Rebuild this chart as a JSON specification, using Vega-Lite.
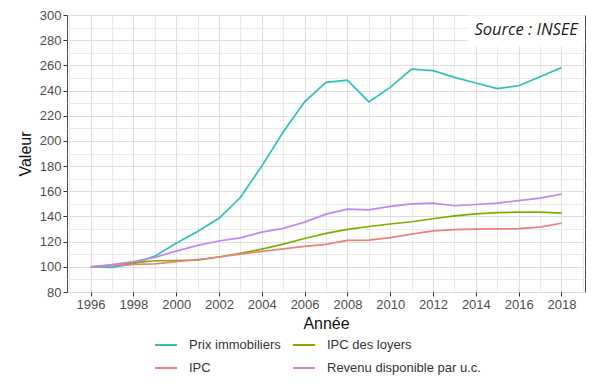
{
  "$schema": "https://vega.github.io/schema/vega-lite/v6.json",
  "autosize": {"type": "none"},
  "width": 518,
  "height": 277,
  "padding": {"left": 67, "top": 15, "right": 15, "bottom": 99},
  "background": "white",
  "config": {"view": {"stroke": "#4a4a4a", "strokeWidth": 1}, "font": "Liberation Sans"},
  "datasets": {
    "series": [
      {"annee": 1996, "serie": "Prix immobiliers", "valeur": 100},
      {"annee": 1997, "serie": "Prix immobiliers", "valeur": 99.5},
      {"annee": 1998, "serie": "Prix immobiliers", "valeur": 102.3},
      {"annee": 1999, "serie": "Prix immobiliers", "valeur": 108.5},
      {"annee": 2000, "serie": "Prix immobiliers", "valeur": 118.7},
      {"annee": 2001, "serie": "Prix immobiliers", "valeur": 128},
      {"annee": 2002, "serie": "Prix immobiliers", "valeur": 138.5},
      {"annee": 2003, "serie": "Prix immobiliers", "valeur": 155},
      {"annee": 2004, "serie": "Prix immobiliers", "valeur": 180},
      {"annee": 2005, "serie": "Prix immobiliers", "valeur": 207},
      {"annee": 2006, "serie": "Prix immobiliers", "valeur": 231},
      {"annee": 2007, "serie": "Prix immobiliers", "valeur": 246.5},
      {"annee": 2008, "serie": "Prix immobiliers", "valeur": 248.3},
      {"annee": 2009, "serie": "Prix immobiliers", "valeur": 231},
      {"annee": 2010, "serie": "Prix immobiliers", "valeur": 242.5},
      {"annee": 2011, "serie": "Prix immobiliers", "valeur": 257},
      {"annee": 2012, "serie": "Prix immobiliers", "valeur": 255.8},
      {"annee": 2013, "serie": "Prix immobiliers", "valeur": 250.5},
      {"annee": 2014, "serie": "Prix immobiliers", "valeur": 246},
      {"annee": 2015, "serie": "Prix immobiliers", "valeur": 241.5},
      {"annee": 2016, "serie": "Prix immobiliers", "valeur": 243.8},
      {"annee": 2017, "serie": "Prix immobiliers", "valeur": 251},
      {"annee": 2018, "serie": "Prix immobiliers", "valeur": 258.2},
      {"annee": 1996, "serie": "IPC des loyers", "valeur": 100},
      {"annee": 1997, "serie": "IPC des loyers", "valeur": 101.2},
      {"annee": 1998, "serie": "IPC des loyers", "valeur": 103.2},
      {"annee": 1999, "serie": "IPC des loyers", "valeur": 104.8},
      {"annee": 2000, "serie": "IPC des loyers", "valeur": 105},
      {"annee": 2001, "serie": "IPC des loyers", "valeur": 105.3},
      {"annee": 2002, "serie": "IPC des loyers", "valeur": 107.8},
      {"annee": 2003, "serie": "IPC des loyers", "valeur": 110.8},
      {"annee": 2004, "serie": "IPC des loyers", "valeur": 114},
      {"annee": 2005, "serie": "IPC des loyers", "valeur": 118},
      {"annee": 2006, "serie": "IPC des loyers", "valeur": 122.5},
      {"annee": 2007, "serie": "IPC des loyers", "valeur": 126.5},
      {"annee": 2008, "serie": "IPC des loyers", "valeur": 129.7},
      {"annee": 2009, "serie": "IPC des loyers", "valeur": 132},
      {"annee": 2010, "serie": "IPC des loyers", "valeur": 134},
      {"annee": 2011, "serie": "IPC des loyers", "valeur": 135.8},
      {"annee": 2012, "serie": "IPC des loyers", "valeur": 138.2},
      {"annee": 2013, "serie": "IPC des loyers", "valeur": 140.5},
      {"annee": 2014, "serie": "IPC des loyers", "valeur": 142},
      {"annee": 2015, "serie": "IPC des loyers", "valeur": 143},
      {"annee": 2016, "serie": "IPC des loyers", "valeur": 143.5},
      {"annee": 2017, "serie": "IPC des loyers", "valeur": 143.5},
      {"annee": 2018, "serie": "IPC des loyers", "valeur": 142.7},
      {"annee": 1996, "serie": "IPC", "valeur": 100},
      {"annee": 1997, "serie": "IPC", "valeur": 101.2},
      {"annee": 1998, "serie": "IPC", "valeur": 101.9},
      {"annee": 1999, "serie": "IPC", "valeur": 102.4},
      {"annee": 2000, "serie": "IPC", "valeur": 104.1},
      {"annee": 2001, "serie": "IPC", "valeur": 105.8},
      {"annee": 2002, "serie": "IPC", "valeur": 107.8},
      {"annee": 2003, "serie": "IPC", "valeur": 110.1},
      {"annee": 2004, "serie": "IPC", "valeur": 112.3},
      {"annee": 2005, "serie": "IPC", "valeur": 114.3},
      {"annee": 2006, "serie": "IPC", "valeur": 116.2},
      {"annee": 2007, "serie": "IPC", "valeur": 117.8},
      {"annee": 2008, "serie": "IPC", "valeur": 121},
      {"annee": 2009, "serie": "IPC", "valeur": 121.2},
      {"annee": 2010, "serie": "IPC", "valeur": 123.2},
      {"annee": 2011, "serie": "IPC", "valeur": 126},
      {"annee": 2012, "serie": "IPC", "valeur": 128.5},
      {"annee": 2013, "serie": "IPC", "valeur": 129.5},
      {"annee": 2014, "serie": "IPC", "valeur": 130},
      {"annee": 2015, "serie": "IPC", "valeur": 130.1},
      {"annee": 2016, "serie": "IPC", "valeur": 130.3},
      {"annee": 2017, "serie": "IPC", "valeur": 131.6},
      {"annee": 2018, "serie": "IPC", "valeur": 134.6},
      {"annee": 1996, "serie": "Revenu disponible par u.c.", "valeur": 100},
      {"annee": 1997, "serie": "Revenu disponible par u.c.", "valeur": 101.8},
      {"annee": 1998, "serie": "Revenu disponible par u.c.", "valeur": 104.2},
      {"annee": 1999, "serie": "Revenu disponible par u.c.", "valeur": 107.5},
      {"annee": 2000, "serie": "Revenu disponible par u.c.", "valeur": 112.5},
      {"annee": 2001, "serie": "Revenu disponible par u.c.", "valeur": 117},
      {"annee": 2002, "serie": "Revenu disponible par u.c.", "valeur": 120.5},
      {"annee": 2003, "serie": "Revenu disponible par u.c.", "valeur": 123},
      {"annee": 2004, "serie": "Revenu disponible par u.c.", "valeur": 127.5},
      {"annee": 2005, "serie": "Revenu disponible par u.c.", "valeur": 130.5},
      {"annee": 2006, "serie": "Revenu disponible par u.c.", "valeur": 135.5},
      {"annee": 2007, "serie": "Revenu disponible par u.c.", "valeur": 141.8},
      {"annee": 2008, "serie": "Revenu disponible par u.c.", "valeur": 145.8},
      {"annee": 2009, "serie": "Revenu disponible par u.c.", "valeur": 145.2},
      {"annee": 2010, "serie": "Revenu disponible par u.c.", "valeur": 148},
      {"annee": 2011, "serie": "Revenu disponible par u.c.", "valeur": 150},
      {"annee": 2012, "serie": "Revenu disponible par u.c.", "valeur": 150.6},
      {"annee": 2013, "serie": "Revenu disponible par u.c.", "valeur": 148.5},
      {"annee": 2014, "serie": "Revenu disponible par u.c.", "valeur": 149.5},
      {"annee": 2015, "serie": "Revenu disponible par u.c.", "valeur": 150.6},
      {"annee": 2016, "serie": "Revenu disponible par u.c.", "valeur": 152.5},
      {"annee": 2017, "serie": "Revenu disponible par u.c.", "valeur": 154.6},
      {"annee": 2018, "serie": "Revenu disponible par u.c.", "valeur": 157.8}
    ],
    "source": [{"label": "Source : INSEE"}]
  },
  "resolve": {"axis": {"x": "independent", "y": "independent"}},
  "layer": [
    {
      "data": {"name": "series"},
      "mark": {"type": "line", "strokeWidth": 1.7},
      "encoding": {
        "x": {
          "field": "annee",
          "type": "quantitative",
          "scale": {"domain": [1994.9, 2019.1], "nice": false, "zero": false},
          "axis": {
            "orient": "bottom",
            "title": "Année",
            "values": [1995, 1996, 1997, 1998, 1999, 2000, 2001, 2002, 2003, 2004, 2005, 2006, 2007, 2008, 2009, 2010, 2011, 2012, 2013, 2014, 2015, 2016, 2017, 2018, 2019],
            "format": "d",
            "labelExpr": "datum.value % 2 == 0 ? datum.label : ''",
            "gridColor": {"condition": {"test": "datum.value % 2 == 0", "value": "#dedede"}, "value": "#e9e9e9"},
            "tickOpacity": {"condition": {"test": "datum.value % 2 == 0", "value": 1}, "value": 0},
            "tickColor": "#333",
            "tickSize": 4,
            "domain": false,
            "labelFontSize": 13,
            "labelColor": "#4d4d4d",
            "labelPadding": 2,
            "labelFlush": false,
            "labelOverlap": false,
            "labelBound": false,
            "titleFontSize": 16,
            "titleFontWeight": "normal",
            "titleColor": "#111",
            "titlePadding": 4
          }
        },
        "y": {
          "field": "valeur",
          "type": "quantitative",
          "scale": {"domain": [80, 300], "nice": false, "zero": false},
          "axis": {
            "orient": "left",
            "title": "Valeur",
            "values": [80, 90, 100, 110, 120, 130, 140, 150, 160, 170, 180, 190, 200, 210, 220, 230, 240, 250, 260, 270, 280, 290, 300],
            "labelExpr": "datum.value % 20 == 0 ? datum.label : ''",
            "gridColor": {"condition": {"test": "datum.value % 20 == 0", "value": "#dedede"}, "value": "#e9e9e9"},
            "tickOpacity": {"condition": {"test": "datum.value % 20 == 0", "value": 1}, "value": 0},
            "tickColor": "#333",
            "tickSize": 4,
            "domain": false,
            "labelFontSize": 13,
            "labelColor": "#4d4d4d",
            "labelPadding": 2,
            "labelFlush": false,
            "labelOverlap": false,
            "labelBound": false,
            "titleFontSize": 16,
            "titleFontWeight": "normal",
            "titleColor": "#111",
            "titlePadding": 6
          }
        },
        "color": {
          "field": "serie",
          "type": "nominal",
          "sort": ["Prix immobiliers", "IPC", "IPC des loyers", "Revenu disponible par u.c."],
          "scale": {
            "domain": ["Prix immobiliers", "IPC", "IPC des loyers", "Revenu disponible par u.c."],
            "range": ["#2fbfb8", "#f07f78", "#7cae00", "#c385f5"]
          },
          "legend": {
            "title": null,
            "orient": "none",
            "legendX": 87,
            "legendY": 318,
            "columns": 2,
            "symbolType": "stroke",
            "symbolSize": 484,
            "symbolStrokeWidth": 2,
            "labelFontSize": 13,
            "labelColor": "#333",
            "labelOffset": 11,
            "columnPadding": 8,
            "rowPadding": 4
          }
        }
      }
    },
    {
      "data": {"name": "source"},
      "mark": {"type": "rect", "fill": "white"},
      "encoding": {
        "x": {"datum": 2013.6, "type": "quantitative", "axis": null},
        "x2": {"datum": 2019.05},
        "y": {"datum": 275, "type": "quantitative", "axis": null},
        "y2": {"datum": 299.6}
      }
    },
    {
      "data": {"name": "source"},
      "mark": {"type": "text", "font": "Open Sans", "fontStyle": "italic", "fontSize": 16.5, "color": "#1a1a1a"},
      "encoding": {
        "x": {"datum": 2016.35, "type": "quantitative", "axis": null},
        "y": {"datum": 288, "type": "quantitative", "axis": null},
        "text": {"field": "label"}
      }
    }
  ]
}
